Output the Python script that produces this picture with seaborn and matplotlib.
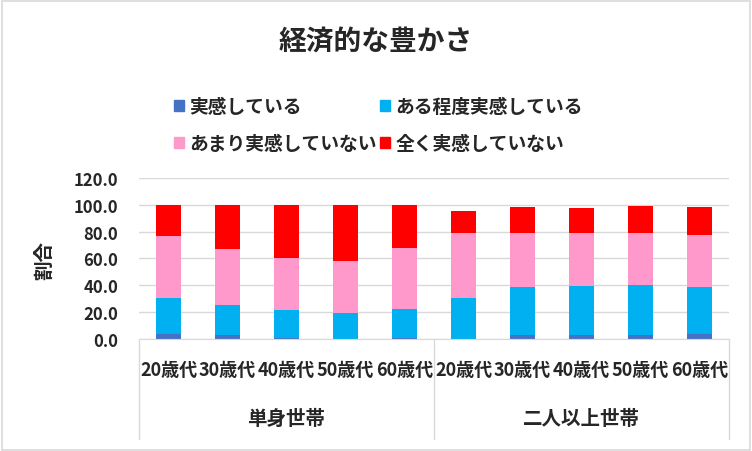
import seaborn as sns
import matplotlib.pyplot as plt
import matplotlib.patches as mpatches
import matplotlib.transforms as mtransforms
import pandas as pd
import numpy as np

sns.set_style("white")
plt.rcParams['font.family'] = ['Noto Sans CJK JP', 'DejaVu Sans']

# Data (%)
groups = ["単身世帯", "二人以上世帯"]
ages = ["20歳代", "30歳代", "40歳代", "50歳代", "60歳代"]
series = ["実感している", "ある程度実感している", "あまり実感していない", "全く実感していない"]
colors = ["#4472C4", "#00B0F0", "#FF99CC", "#FF0000"]

jikkan = [3.7, 3.0, 0.7, 0.0, 0.7, 0.0, 3.0, 3.0, 3.0, 3.7]
aru_teido = [26.8, 22.3, 20.9, 19.4, 21.6, 30.5, 35.7, 36.5, 37.2, 35.0]
amari = [46.2, 41.7, 38.7, 38.7, 45.4, 48.4, 40.2, 39.4, 38.7, 38.7]
mattaku = [23.3, 33.0, 39.7, 41.9, 32.3, 16.4, 19.4, 18.6, 20.1, 20.9]

cats = [g + "_" + a for g in groups for a in ages]
df = pd.DataFrame({"cat": cats, series[0]: jikkan, series[1]: aru_teido,
                   series[2]: amari, series[3]: mattaku})
cum = df[series].cumsum(axis=1)

fig = plt.figure(figsize=(7.52, 4.52), dpi=100)
ax = fig.add_axes([0.1848, 0.2478, 0.7846, 0.3566])

# stacked bars: draw cumulative heights from the top layer down
for s, c in reversed(list(zip(series, colors))):
    sns.barplot(x=df["cat"], y=cum[s], order=cats, color=c, width=0.41,
                saturation=1, ax=ax, linewidth=0)

ax.set_xlim(-0.5, 9.5)
ax.set_ylim(0, 120)
ax.set_yticks(np.arange(0, 121, 20))
ax.set_yticklabels([f"{v:.1f}" for v in np.arange(0, 121, 20)],
                   fontsize=12, fontweight="bold")
ax.yaxis.grid(True, color="#D9D9D9", linewidth=1)
ax.set_axisbelow(True)
for side in ["top", "right", "left"]:
    ax.spines[side].set_visible(False)
ax.spines["bottom"].set_color("#D9D9D9")
ax.tick_params(axis="y", length=0, pad=15)
ax.set_xticks(range(10))
ax.set_xticklabels(ages * 2, fontsize=13, fontweight="bold")
ax.tick_params(axis="x", length=0, pad=15)
ax.set_xlabel("")
ax.set_ylabel("")
fig.text(45 / 752, 1 - 261 / 452, "割合", rotation=90, ha="center", va="center",
         fontsize=14, fontweight="bold")

# group labels and separators below the axis
trans = mtransforms.blended_transform_factory(ax.transData, ax.transAxes)
for xs in [-0.5, 4.5, 9.5]:
    ax.plot([xs, xs], [0, -0.62], transform=trans, color="#D9D9D9",
            linewidth=1, clip_on=False)
for i, g in enumerate(groups):
    ax.text(2 + 5 * i, -0.49, g, transform=trans, ha="center", va="center",
            fontsize=14, fontweight="bold")

# legend (row-wise order)
handles = [mpatches.Patch(color=c) for c in colors]
order = [0, 2, 1, 3]
fig.legend([handles[i] for i in order], [series[i] for i in order],
           loc="upper left", bbox_to_anchor=(0.219, 0.803), ncol=2,
           frameon=False, handlelength=0.52, handleheight=0.52,
           handletextpad=0.3, columnspacing=0.15, labelspacing=0.95,
           borderpad=0, prop={"size": 13.5, "weight": "bold"})

fig.text(0.5, 1 - 42 / 452, "経済的な豊かさ", ha="center", va="center",
         fontsize=20, fontweight="bold")

# outer chart border
fig.patches.append(mpatches.Rectangle((0.002, 0.003), 0.995, 0.993,
                                      transform=fig.transFigure, fill=False,
                                      edgecolor="#D9D9D9", linewidth=1.2))

plt.savefig("out.png", dpi=100)
